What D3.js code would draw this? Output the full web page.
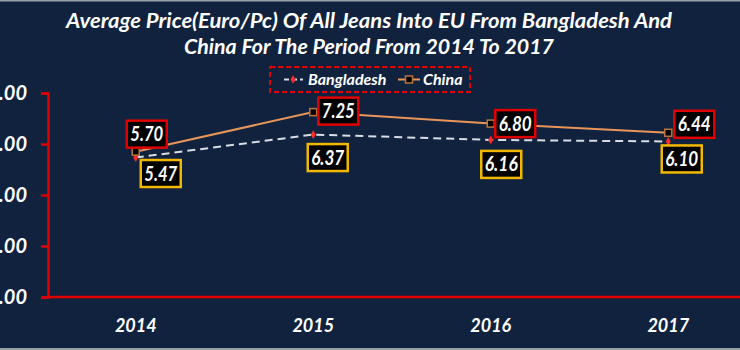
<!DOCTYPE html>
<html>
<head>
<meta charset="utf-8">
<script src="https://cdn.jsdelivr.net/npm/d3@7"></script>
<style>
  html, body { margin: 0; padding: 0; background: #11223e; }
  svg { display: block; }
  text { font-family: Lato, "Open Sans", sans-serif; font-weight: bold; font-style: italic; fill: #ffffff; }
</style>
</head>
<body>
<svg id="chart" width="740" height="350"></svg>
<script>
// Average jeans import price into the EU (Euro per piece)
const years = ["2014", "2015", "2016", "2017"];
const bangladesh = [5.47, 6.37, 6.16, 6.10];
const china = [5.70, 7.25, 6.80, 6.44];
const yTicks = [0, 2, 4, 6, 8];
const titleLines = [
  "Average Price(Euro/Pc) Of All Jeans Into EU From Bangladesh And",
  "China For The Period From 2014 To 2017"
];
const seriesNames = ["Bangladesh", "China"];

const W = 740, H = 350;
const svg = d3.select("#chart");

svg.append("rect").attr("width", W).attr("height", H).attr("fill", "#11223e");
// thin frame edges
svg.append("rect").attr("x", 0).attr("y", 0).attr("width", W).attr("height", 1.5).attr("fill", "#9aa0a8");
svg.append("rect").attr("x", 0).attr("y", H - 2).attr("width", W).attr("height", 2).attr("fill", "#9aa0a8");

const x = d3.scaleBand().domain(years).range([47, 757]).padding(0);
const cx = d => x(d) + x.bandwidth() / 2;
const y = d3.scaleLinear().domain([0, 8]).range([297, 93]);

// Title
const titleWidths = [606, 370];
titleLines.forEach((t, i) => {
  svg.append("text")
    .attr("x", 369).attr("y", 28 + i * 26)
    .attr("text-anchor", "middle")
    .attr("font-size", 20)
    .attr("textLength", titleWidths[i])
    .attr("lengthAdjust", "spacingAndGlyphs")
    .text(t);
});

// Y axis (the plot sits close to the left edge, so labels run off it)
const yAxis = svg.append("g")
  .attr("transform", "translate(48,0)")
  .call(d3.axisLeft(y).tickValues(yTicks).tickFormat(d3.format(".2f")).tickSize(7).tickPadding(14));
yAxis.select(".domain").attr("stroke", "#e00000").attr("stroke-width", 2.5);
yAxis.selectAll(".tick line").attr("stroke", "#e00000").attr("stroke-width", 2.5);
yAxis.selectAll(".tick text").attr("font-size", 20).attr("fill", "#ffffff")
  .style("font-family", "Lato, sans-serif").style("font-weight", "bold").style("font-style", "italic");

// X axis
const xAxis = svg.append("g")
  .attr("transform", "translate(0,297)")
  .call(d3.axisBottom(x).tickSize(0).tickPadding(22));
xAxis.select(".domain").attr("stroke", "#e00000").attr("stroke-width", 2.5);
xAxis.selectAll(".tick text").attr("font-size", 18).attr("fill", "#ffffff")
  .style("font-family", "Lato, sans-serif").style("font-weight", "bold").style("font-style", "italic");
xAxis.select(".domain").attr("d", "M48,0H740");

// Lines
const line = vals => d3.line().x((d, i) => cx(years[i])).y(d => y(d))(vals);

svg.append("path").attr("d", line(bangladesh))
  .attr("fill", "none").attr("stroke", "#d9dde3").attr("stroke-width", 2)
  .attr("stroke-dasharray", "8,5");
svg.append("path").attr("d", line(china))
  .attr("fill", "none").attr("stroke", "#e8955a").attr("stroke-width", 2);

// Markers
svg.selectAll(".bd-mark").data(bangladesh).join("path")
  .attr("transform", (d, i) => `translate(${cx(years[i])},${y(d)})`)
  .attr("d", d3.symbol(d3.symbolDiamond, 22))
  .attr("fill", "#ff2a2a");
svg.selectAll(".cn-mark").data(china).join("rect")
  .attr("x", (d, i) => cx(years[i]) - 3.5).attr("y", d => y(d) - 3.5)
  .attr("width", 7).attr("height", 7)
  .attr("fill", "#000000").attr("stroke", "#b8763c").attr("stroke-width", 1.5);

// Value labels: boxed, offset from each point
const chinaShift = [[11, -17.5], [25, -1], [24.5, 0], [26, -8.5]];
const bdShift = [[25, 16], [14.5, 23], [10.5, 24.5], [13.5, 17.5]];

function labels(vals, shift, border) {
  vals.forEach((v, i) => {
    const px = cx(years[i]) + shift[i][0];
    const py = y(v) + shift[i][1];
    svg.append("rect")
      .attr("x", px - 20).attr("y", py - 13.5)
      .attr("width", 40).attr("height", 27)
      .attr("fill", "#000000").attr("stroke", border).attr("stroke-width", 2.5);
    svg.append("text")
      .attr("x", px).attr("y", py + 7)
      .attr("text-anchor", "middle").attr("font-size", 20)
      .attr("textLength", 33).attr("lengthAdjust", "spacingAndGlyphs")
      .text(d3.format(".2f")(v));
  });
}
labels(china, chinaShift, "#e00000");
labels(bangladesh, bdShift, "#f2b800");

// Legend
const lg = svg.append("g");
lg.append("rect").attr("x", 270).attr("y", 67).attr("width", 200).attr("height", 25)
  .attr("fill", "none").attr("stroke", "#e00000").attr("stroke-width", 2).attr("stroke-dasharray", "5,3");
lg.append("line").attr("x1", 284).attr("x2", 303).attr("y1", 79.5).attr("y2", 79.5)
  .attr("stroke", "#d9dde3").attr("stroke-width", 2).attr("stroke-dasharray", "5,3");
lg.append("path").attr("transform", "translate(293,79.5)")
  .attr("d", d3.symbol(d3.symbolDiamond, 22)).attr("fill", "#ff2a2a");
lg.append("text").attr("x", 308).attr("y", 85).attr("font-size", 16).text(seriesNames[0]);
lg.append("line").attr("x1", 398).attr("x2", 420).attr("y1", 79.5).attr("y2", 79.5)
  .attr("stroke", "#e8955a").attr("stroke-width", 2);
lg.append("rect").attr("x", 405.5).attr("y", 76).attr("width", 7).attr("height", 7)
  .attr("fill", "#000000").attr("stroke", "#b8763c").attr("stroke-width", 1.5);
lg.append("text").attr("x", 423).attr("y", 85).attr("font-size", 16).text(seriesNames[1]);
</script>
</body>
</html>
